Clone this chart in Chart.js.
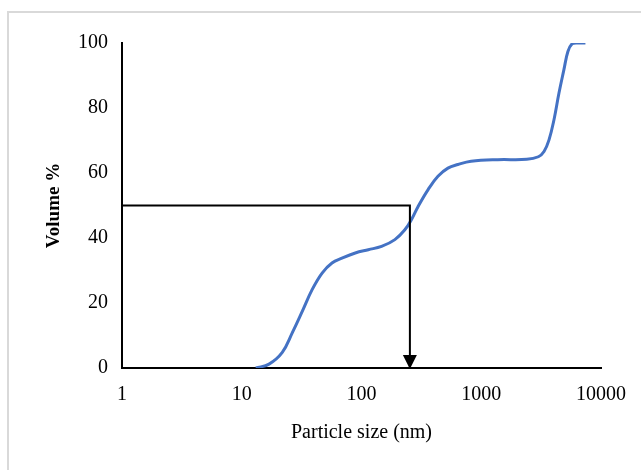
<!DOCTYPE html>
<html>
<head>
<meta charset="utf-8">
<script src="https://cdn.jsdelivr.net/npm/chart.js@4/dist/chart.umd.min.js"></script>
<style>
  html, body { margin: 0; padding: 0; background: #ffffff; }
  #wrap { position: relative; width: 641px; height: 470px; overflow: hidden; }
  #frame { position: absolute; left: 7px; top: 11px; width: 700px; height: 520px;
           border-left: 2px solid #d9d9d9; border-top: 2px solid #d9d9d9; }
  canvas { position: absolute; left: 0; top: 0; }
</style>
</head>
<body>
<div id="wrap">
  <div id="frame"></div>
  <canvas id="c" width="641" height="470"></canvas>
</div>
<script>
// ---- data ----
const particleSize = [13.1, 16.9, 21.8, 26.4, 32.0, 38.7, 46.9, 56.7, 68.7, 88.7, 114, 147, 190, 231, 261, 297, 360, 435, 527, 638, 823, 1371, 2400, 3000, 3344, 3681, 4050, 4457, 4902, 5293, 5748, 6318, 7413];
const volumePct    = [0,    1.2,  4.8,  10.8, 17.4, 24.1, 29.2, 32.3, 33.8, 35.4, 36.4, 37.4, 39.5, 42.6, 45.6, 49.7, 54.9, 59.0, 61.5, 62.6, 63.6, 64.1, 64.2, 65.0, 66.6, 70.2, 76.4, 84.6, 91.8, 97.4, 99.8, 100, 100];
const guideX = [1, 253.6, 253.6];
const guideY = [50, 50, 0];
const xTickValues = [1, 10, 100, 1000, 10000];
const yTickMin = 0, yTickMax = 100, yTickStep = 20;
const xTitle = 'Particle size (nm)';
const yTitle = 'Volume %';

const curvePoints = particleSize.map((x, i) => ({ x: x, y: volumePct[i] }));
const guidePoints = guideX.map((x, i) => ({ x: x, y: guideY[i] }));

const arrowPlugin = {
  id: 'arrowHead',
  afterDatasetsDraw(chart) {
    const xs = chart.scales.x, ys = chart.scales.y;
    const last = guidePoints[guidePoints.length - 1];
    const px = xs.getPixelForValue(last.x);
    const py = ys.getPixelForValue(last.y);
    const ctx = chart.ctx;
    ctx.save();
    ctx.fillStyle = '#000';
    ctx.beginPath();
    ctx.moveTo(px, py + 1);
    ctx.lineTo(px - 7, py - 13);
    ctx.lineTo(px + 7, py - 13);
    ctx.closePath();
    ctx.fill();
    ctx.restore();
  }
};

const serif = '"Liberation Serif", "Times New Roman", serif';

new Chart(document.getElementById('c'), {
  type: 'line',
  data: {
    datasets: [
      {
        data: guidePoints,
        borderColor: '#000000',
        borderWidth: 2,
        pointRadius: 0,
        tension: 0,
        fill: false
      },
      {
        data: curvePoints,
        borderColor: '#4472C4',
        borderWidth: 3,
        pointRadius: 0,
        tension: 0.4,
        fill: false
      }
    ]
  },
  options: {
    responsive: false,
    animation: false,
    devicePixelRatio: 1,
    layout: { padding: { left: 37, top: 43, right: 37, bottom: 21 } },
    plugins: { legend: { display: false }, tooltip: { enabled: false } },
    scales: {
      x: {
        type: 'logarithmic',
        min: 1,
        max: 10000,
        afterBuildTicks: (scale) => { scale.ticks = xTickValues.map(v => ({ value: v })); },
        afterFit: (scale) => { scale.height = 81; },
        grid: { display: false, drawTicks: false },
        border: { display: true, color: '#000000', width: 2 },
        ticks: {
          autoSkip: false,
          maxRotation: 0,
          minRotation: 0,
          padding: 15,
          color: '#000000',
          font: { family: serif, size: 20 },
          callback: (v) => String(v)
        },
        title: {
          display: true,
          text: xTitle,
          color: '#000000',
          font: { family: serif, size: 20 },
          padding: { top: 4, bottom: 4 }
        }
      },
      y: {
        min: yTickMin,
        max: yTickMax,
        afterFit: (scale) => { scale.width = 85; },
        grid: { display: false, drawTicks: false },
        border: { display: true, color: '#000000', width: 2 },
        ticks: {
          stepSize: yTickStep,
          padding: 14,
          color: '#000000',
          font: { family: serif, size: 20 }
        },
        title: {
          display: true,
          text: yTitle,
          color: '#000000',
          font: { family: serif, size: 19, weight: 'bold' },
          padding: { top: 6, bottom: 4 }
        }
      }
    }
  },
  plugins: [arrowPlugin]
});
</script>
</body>
</html>
